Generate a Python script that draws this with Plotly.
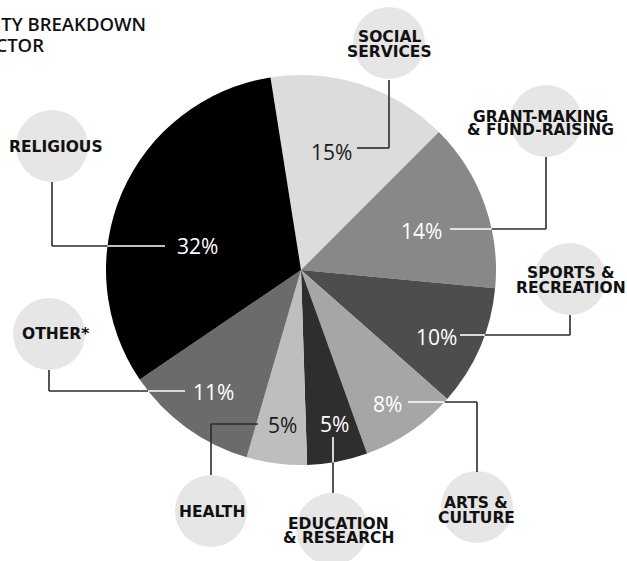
import plotly.graph_objects as go
import math

# ---------------- data ----------------
categories = ["Social Services", "Grant-Making & Fund-Raising", "Sports & Recreation",
              "Arts & Culture", "Education & Research", "Health", "Other*", "Religious"]
values = [15, 14, 10, 8, 5, 5, 11, 32]
label_lines = [["SOCIAL", "SERVICES"], ["GRANT-MAKING", "& FUND-RAISING"],
               ["SPORTS &", "RECREATION"], ["ARTS &", "CULTURE"],
               ["EDUCATION", "& RESEARCH"], ["HEALTH"], ["OTHER*"], ["RELIGIOUS"]]
title_lines = ["CHARITY BREAKDOWN", "BY SECTOR"]

# ---------------- styles / layout positions (pixels) ----------------
W, H = 627, 561
colors = ["#dcdcdc", "#888888", "#4d4d4d", "#a6a6a6", "#2e2e2e", "#bebebe", "#6b6b6b", "#000000"]
pct_colors = ["#1a1a1a", "white", "white", "white", "white", "#1a1a1a", "white", "white"]
CX, CY, R = 301, 270, 195
DARK = "#2b2b2b"
LABEL_FONT = "DejaVu Sans"
PCT_FONT = "Open Sans"

bubble_centers = [(389, 43), (546, 121), (570, 279), (477, 507),
                  (332, 529), (211, 511), (49, 334), (52, 146)]
bubble_r = 36
label_pos = [(389, [36, 51]), (540, [116, 129]), (571, [272, 287]), (476, [502, 517]),
             (338, [523, 537]), (212, [511]), (55, [333]), (56, [146])]
pct_pos = [(332, 151), (421, 230), (436, 336), (387, 403),
           (334, 423), (282, 424), (213, 391), (197, 245)]
leaders = [
    [(389, 80), (389, 148), (357, 148)],
    [(546, 157), (546, 229), (450, 229)],
    [(570, 315), (570, 335), (460, 335)],
    [(477, 472), (477, 402), (408, 402)],
    [(333, 493), (333, 437)],
    [(211, 475), (211, 424), (258, 424)],
    [(49, 370), (49, 391), (185, 391)],
    [(52, 182), (52, 246), (165, 246)],
]
inside_colors = [DARK, "white", "white", "white", "white", DARK, "white", "white"]


def px(x):
    return x / W


def py(y):
    return 1 - y / H


fig = go.Figure()
fig.add_trace(go.Pie(
    labels=categories, values=values, sort=False, direction="clockwise",
    rotation=-9, marker=dict(colors=colors, line=dict(width=0)),
    textinfo="none", hoverinfo="label+percent", showlegend=False,
    domain=dict(x=[px(CX - R), px(CX + R)], y=[py(CY + R), py(CY - R)]),
))

shapes = []
annotations = []

# bubbles
for (bx, by) in bubble_centers:
    shapes.append(dict(type="circle", xref="paper", yref="paper",
                       x0=px(bx - bubble_r), x1=px(bx + bubble_r),
                       y0=py(by + bubble_r), y1=py(by - bubble_r),
                       fillcolor="#e6e6e6", line=dict(width=0), layer="below"))


def split_segment(p0, p1):
    """split a segment at the pie rim, return list of (a, b, inside)"""
    (x0, y0), (x1, y1) = p0, p1
    dx, dy = x1 - x0, y1 - y0
    fx, fy = x0 - CX, y0 - CY
    a = dx * dx + dy * dy
    b = 2 * (fx * dx + fy * dy)
    c = fx * fx + fy * fy - R * R
    ts = [0.0, 1.0]
    disc = b * b - 4 * a * c
    if disc > 0:
        for s in (-1, 1):
            t = (-b + s * math.sqrt(disc)) / (2 * a)
            if 0 < t < 1:
                ts.append(t)
    ts.sort()
    out = []
    for t0, t1 in zip(ts[:-1], ts[1:]):
        tm = (t0 + t1) / 2
        mx, my = x0 + dx * tm, y0 + dy * tm
        inside = (mx - CX) ** 2 + (my - CY) ** 2 < R * R
        out.append(((x0 + dx * t0, y0 + dy * t0), (x0 + dx * t1, y0 + dy * t1), inside))
    return out


for pts, icol in zip(leaders, inside_colors):
    for p0, p1 in zip(pts[:-1], pts[1:]):
        for a, b, inside in split_segment(p0, p1):
            shapes.append(dict(type="line", xref="paper", yref="paper",
                               x0=px(a[0]), y0=py(a[1]), x1=px(b[0]), y1=py(b[1]),
                               line=dict(color=icol if inside else DARK, width=1.6),
                               layer="above"))

# category labels
for lines, (lx, lys) in zip(label_lines, label_pos):
    for txt, ly in zip(lines, lys):
        annotations.append(dict(x=px(lx), y=py(ly + 1), xref="paper", yref="paper",
                                text=txt, showarrow=False, xanchor="center", yanchor="middle",
                                font=dict(family=LABEL_FONT, size=15.5, color="#111111",
                                          weight=700)))

# percentage labels
for v, (tx, ty), c in zip(values, pct_pos, pct_colors):
    annotations.append(dict(x=px(tx), y=py(ty + 1), xref="paper", yref="paper",
                            text=f"{v}%", showarrow=False, xanchor="center", yanchor="middle",
                            font=dict(family=PCT_FONT, size=21, color=c, weight=500)))

# title (cropped at left edge as in the reference)
for txt, (rx, ry) in zip(title_lines, [(148, 22), (46, 44)]):
    annotations.append(dict(x=px(rx), y=py(ry + 1), xref="paper", yref="paper",
                            text=txt, showarrow=False, xanchor="right", yanchor="middle",
                            font=dict(family="Open Sans", size=18.5, color="#111111",
                                      weight=600)))

fig.update_layout(
    width=W, height=H, margin=dict(l=0, r=0, t=0, b=0),
    paper_bgcolor="white", plot_bgcolor="white",
    shapes=shapes, annotations=annotations,
)
fig.write_html("out.html", config={"displayModeBar": False},
               post_script="document.body.style.margin='0';")
